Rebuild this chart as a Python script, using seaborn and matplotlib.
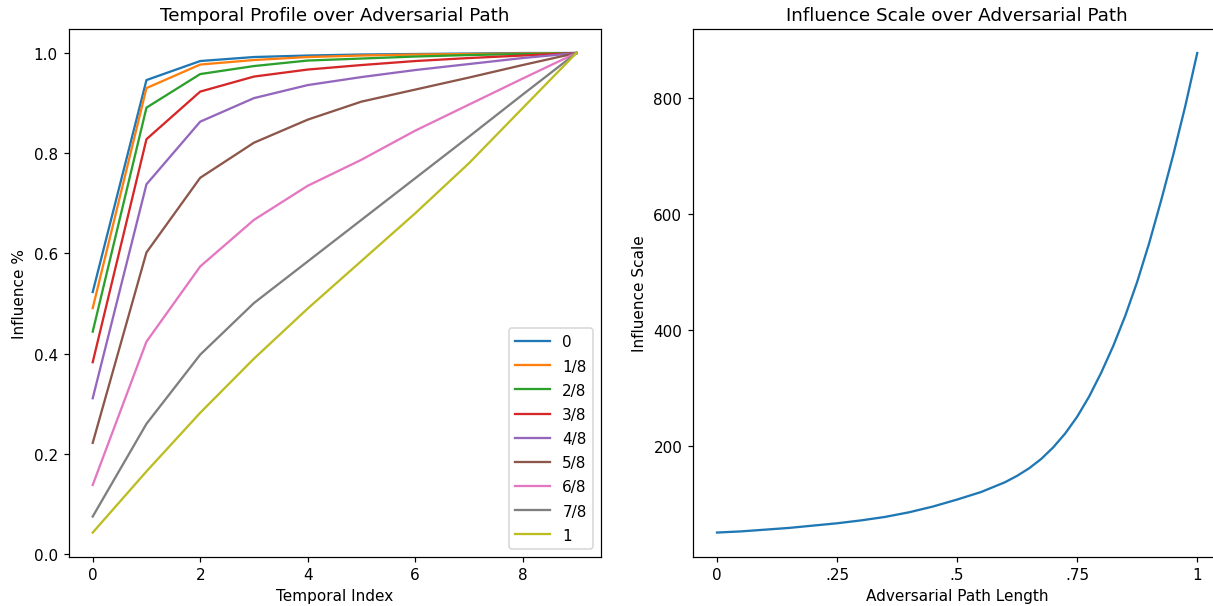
import matplotlib
matplotlib.use("Agg")
import matplotlib.pyplot as plt
import seaborn as sns

# left panel: influence % per temporal index, one series per path fraction
temporal_index = [0, 1, 2, 3, 4, 5, 6, 7, 8, 9]
path_labels = ["0", "1/8", "2/8", "3/8", "4/8", "5/8", "6/8", "7/8", "1"]

infl_0 = [0.523, 0.946, 0.984, 0.992, 0.995, 0.997, 0.998, 0.999, 1.0, 1.0]
infl_1 = [0.491, 0.930, 0.977, 0.986, 0.992, 0.995, 0.997, 0.998, 0.999, 1.0]
infl_2 = [0.444, 0.891, 0.958, 0.974, 0.985, 0.989, 0.993, 0.996, 0.998, 1.0]
infl_3 = [0.383, 0.828, 0.923, 0.953, 0.967, 0.976, 0.984, 0.990, 0.995, 1.0]
infl_4 = [0.311, 0.738, 0.863, 0.910, 0.936, 0.952, 0.966, 0.978, 0.990, 1.0]
infl_5 = [0.222, 0.602, 0.751, 0.821, 0.867, 0.903, 0.927, 0.951, 0.976, 1.0]
infl_6 = [0.138, 0.424, 0.574, 0.667, 0.735, 0.787, 0.845, 0.897, 0.949, 1.0]
infl_7 = [0.075, 0.260, 0.398, 0.501, 0.584, 0.667, 0.750, 0.833, 0.917, 1.0]
infl_8 = [0.043, 0.165, 0.282, 0.390, 0.490, 0.585, 0.680, 0.780, 0.890, 1.0]
all_series = [infl_0, infl_1, infl_2, infl_3, infl_4, infl_5, infl_6, infl_7, infl_8]

# right panel: influence scale vs adversarial path length
path_length = [0.0, 0.05, 0.1, 0.15, 0.2, 0.25, 0.3, 0.35, 0.4, 0.45, 0.5,
               0.55, 0.6, 0.625, 0.65, 0.675, 0.7, 0.725, 0.75, 0.775,
               0.8, 0.825, 0.85, 0.875, 0.9, 0.925, 0.95, 0.975, 1.0]
influence_scale = [50, 52, 55, 58, 62, 66, 71, 77, 85, 95, 107,
                   120, 137, 148, 161, 177, 197, 221, 250, 285,
                   326, 372, 424, 483, 550, 624, 702, 786, 878]

colors = sns.color_palette("tab10", len(path_labels))

fig = plt.figure(figsize=(12.13 / 1.1, 6.07 / 1.1), dpi=110)
ax1 = fig.add_axes([0.0565, 0.0815, 0.4386, 0.869])
ax2 = fig.add_axes([0.5713, 0.0815, 0.4355, 0.869])

for vals, lab, col in zip(all_series, path_labels, colors):
    sns.lineplot(x=temporal_index, y=vals, ax=ax1, label=lab, color=col)
ax1.set_title("Temporal Profile over Adversarial Path")
ax1.set_xlabel("Temporal Index")
ax1.set_ylabel("Influence %")
ax1.legend(loc="lower right", labelspacing=0.6, handlelength=2.3)

sns.lineplot(x=path_length, y=influence_scale, ax=ax2, color=colors[0])
ax2.set_title("Influence Scale over Adversarial Path")
ax2.set_xlabel("Adversarial Path Length")
ax2.set_ylabel("Influence Scale")
ax2.set_xticks([0, 0.25, 0.5, 0.75, 1])
ax2.set_xticklabels(["0", ".25", ".5", ".75", "1"])
ax2.set_yticks([200, 400, 600, 800])

fig.savefig("out.png", dpi=110)
